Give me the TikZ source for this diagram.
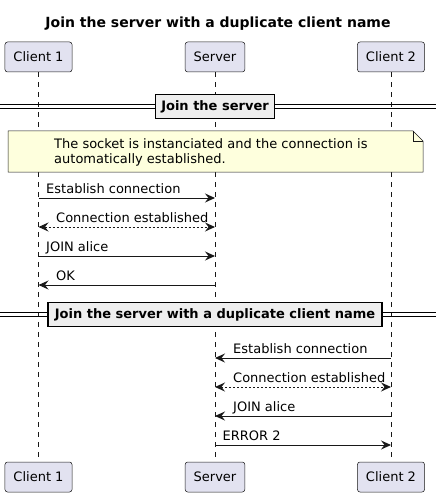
\documentclass[tikz,border=0pt]{standalone}
\usepackage{fontspec}
\setmainfont{DejaVu Sans}
\usetikzlibrary{arrows.meta, positioning}

\definecolor{partfill}{HTML}{E2E2F0}
\definecolor{linecol}{HTML}{181818}
\definecolor{notefill}{HTML}{FEFFDD}
\definecolor{divfill}{HTML}{EEEEEE}

\tikzset{
  participant/.style={draw=linecol, fill=partfill, line width=0.5pt, rounded corners=2.5pt,
    minimum height=30pt, inner xsep=8.5pt, font=\fontsize{13}{15}\selectfont},
  lifeline/.style={linecol, line width=0.5pt, dash pattern=on 5pt off 5pt},
  msg/.style={linecol, line width=1pt, -{Stealth[length=10pt, width=9pt, inset=3.5pt]}},
  answer/.style={msg, dash pattern=on 2pt off 2pt,
    {Stealth[length=10pt, width=9pt, inset=3.5pt]}-{Stealth[length=10pt, width=9pt, inset=3.5pt]}},
  msglabel/.style={anchor=base west, inner sep=0pt, font=\fontsize{13}{15}\selectfont},
  divider/.style={draw=black, fill=divfill, line width=1.5pt, minimum height=24pt,
    inner xsep=6pt, font=\fontsize{13}{15}\selectfont\bfseries},
}

\begin{document}
\begin{tikzpicture}[x=1pt, y=-1pt]

\useasboundingbox (0,0) rectangle (436,497);

\def\xa{38.5}
\def\xs{215}
\def\xb{391}

% title
\node[anchor=base, font=\fontsize{14}{16}\selectfont\bfseries] (title) at (218,28)
  {Join the server with a duplicate client name};

% participants
\node[participant] (c1top) at (\xa,57) {Client 1};
\node[participant] (srvtop) at (\xs,57) {Server};
\node[participant] (c2top) at (\xb,57) {Client 2};
\node[participant] (c1bot) at (\xa,477) {Client 1};
\node[participant] (srvbot) at (\xs,477) {Server};
\node[participant] (c2bot) at (\xb,477) {Client 2};

\draw[lifeline] (c1top) -- (c1bot);
\draw[lifeline] (srvtop) -- (srvbot);
\draw[lifeline] (c2top) -- (c2bot);

% message rows
\foreach \n/\y in {1/198, 2/227, 3/256, 4/285, 5/358, 6/387, 7/416, 8/445} {
  \coordinate (a\n) at (\xa,\y);
  \coordinate (s\n) at (\xs,\y);
  \coordinate (b\n) at (\xb,\y);
}

% first group
\draw[black, line width=0.8pt] (0,104.5) -- (436,104.5) (0,108.5) -- (436,108.5);
\node[divider] (grpjoin) at (215,106.5) {Join the server};

\draw[linecol, line width=0.5pt, fill=notefill]
  (8,131) -- (413,131) -- (423,141) -- (423,172) -- (8,172) -- cycle;
\draw[linecol, line width=0.5pt] (413,131) -- (413,141) -- (423,141);
\node[anchor=base west, inner sep=0pt, align=left, font=\fontsize{13}{15}\selectfont] (note)
  at (54,163.3) {The socket is instanciated and the connection is\\automatically established.};

\draw[msg] (a1) -- (s1);
\node[msglabel] (l1) at ([xshift=7.5pt, yshift=5pt]a1) {Establish connection};
\draw[answer] (a2) -- (s2);
\node[msglabel] (l2) at ([xshift=17.5pt, yshift=5pt]a2) {Connection established};
\draw[msg] (a3) -- (s3);
\node[msglabel] (l3) at ([xshift=7.5pt, yshift=5pt]a3) {JOIN alice};
\draw[msg] (s4) -- (a4);
\node[msglabel] (l4) at ([xshift=17.5pt, yshift=5pt]a4) {OK};

% second group
\draw[black, line width=0.8pt] (0,312.5) -- (436,312.5) (0,316.5) -- (436,316.5);
\node[divider, inner xsep=7pt] (grpdup) at (215,314.5) {Join the server with a duplicate client name};

\draw[msg] (b5) -- (s5);
\node[msglabel] (l5) at ([xshift=18pt, yshift=5pt]s5) {Establish connection};
\draw[answer] (s6) -- (b6);
\node[msglabel] (l6) at ([xshift=18pt, yshift=5pt]s6) {Connection established};
\draw[msg] (b7) -- (s7);
\node[msglabel] (l7) at ([xshift=18pt, yshift=5pt]s7) {JOIN alice};
\draw[msg] (s8) -- (b8);
\node[msglabel] (l8) at ([xshift=7.5pt, yshift=5pt]s8) {ERROR 2};

\end{tikzpicture}
\end{document}
